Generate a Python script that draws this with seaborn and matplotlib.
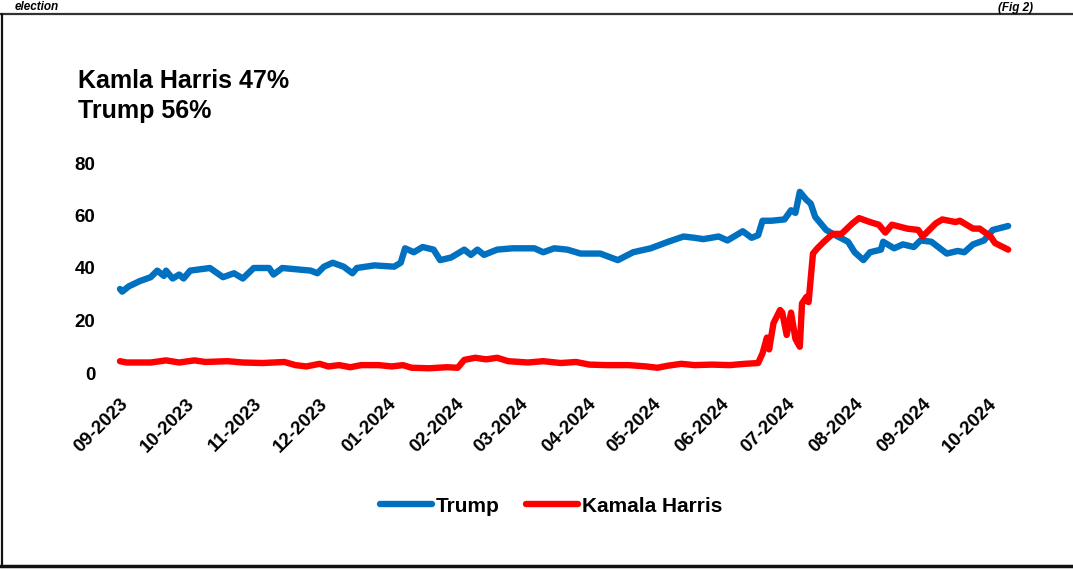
import numpy as np
import pandas as pd
import seaborn as sns
import matplotlib.pyplot as plt
import matplotlib.dates as mdates
from matplotlib.lines import Line2D

# Trump series
trump_dates = [
    "2023-09-01", "2023-09-02", "2023-09-05", "2023-09-10", "2023-09-15", "2023-09-18",
    "2023-09-21", "2023-09-22", "2023-09-25", "2023-09-28", "2023-09-30", "2023-10-03",
    "2023-10-12", "2023-10-18", "2023-10-23", "2023-10-27", "2023-11-01", "2023-11-08",
    "2023-11-10", "2023-11-14", "2023-11-27", "2023-11-30", "2023-12-03", "2023-12-07",
    "2023-12-12", "2023-12-16", "2023-12-18", "2023-12-26", "2024-01-04", "2024-01-07",
    "2024-01-09", "2024-01-13", "2024-01-17", "2024-01-22", "2024-01-25", "2024-01-30",
    "2024-02-05", "2024-02-08", "2024-02-11", "2024-02-14", "2024-02-20", "2024-02-27",
    "2024-03-08", "2024-03-12", "2024-03-17", "2024-03-23", "2024-03-29", "2024-04-07",
    "2024-04-15", "2024-04-22", "2024-04-30", "2024-05-08", "2024-05-15", "2024-05-20",
    "2024-05-24", "2024-05-31", "2024-06-04", "2024-06-11", "2024-06-15", "2024-06-18",
    "2024-06-20", "2024-06-24", "2024-06-30", "2024-07-03", "2024-07-05", "2024-07-07",
    "2024-07-10", "2024-07-12", "2024-07-14", "2024-07-17", "2024-07-19", "2024-07-22",
    "2024-07-29", "2024-08-01", "2024-08-05", "2024-08-08", "2024-08-13", "2024-08-14",
    "2024-08-19", "2024-08-23", "2024-08-28", "2024-08-31", "2024-09-05", "2024-09-12",
    "2024-09-17", "2024-09-20", "2024-09-24", "2024-09-29", "2024-10-03", "2024-10-10",
]
trump_values = [
    32, 31, 33, 35, 36.5, 39,
    37, 39, 36, 37.5, 36, 39,
    40, 36.5, 38, 36, 40, 40,
    37.5, 40, 39, 38, 40.5, 42,
    40.5, 38, 40, 41, 40.5, 42,
    47.5, 46, 48, 47, 43, 44,
    47, 45, 47, 45, 47, 47.5,
    47.5, 46, 47.5, 47, 45.5, 45.5,
    43, 46, 47.5, 50, 52, 51.5,
    51, 52, 50.5, 54, 51.5, 52.5,
    58, 58, 58.5, 62, 61, 69,
    66, 64.5, 59.5, 56.5, 54.5, 53,
    50, 46, 43, 46, 47, 50,
    47.5, 49, 48, 50.5, 50, 45.5,
    46.5, 46, 49, 50.5, 54.5, 56,
]

# Kamala Harris series
harris_dates = [
    "2023-09-01", "2023-09-04", "2023-09-15", "2023-09-22", "2023-09-28", "2023-10-05",
    "2023-10-10", "2023-10-20", "2023-10-27", "2023-11-05", "2023-11-15", "2023-11-20",
    "2023-11-25", "2023-12-01", "2023-12-05", "2023-12-10", "2023-12-15", "2023-12-20",
    "2023-12-28", "2024-01-03", "2024-01-08", "2024-01-12", "2024-01-20", "2024-01-28",
    "2024-02-02", "2024-02-05", "2024-02-10", "2024-02-15", "2024-02-20", "2024-02-25",
    "2024-03-05", "2024-03-12", "2024-03-20", "2024-03-27", "2024-04-02", "2024-04-10",
    "2024-04-20", "2024-04-28", "2024-05-03", "2024-05-08", "2024-05-14", "2024-05-20",
    "2024-05-28", "2024-06-05", "2024-06-12", "2024-06-18", "2024-06-20", "2024-06-22",
    "2024-06-23", "2024-06-25", "2024-06-28", "2024-06-29", "2024-07-01", "2024-07-03",
    "2024-07-05", "2024-07-07", "2024-07-08", "2024-07-10", "2024-07-11", "2024-07-13",
    "2024-07-15", "2024-07-18", "2024-07-22", "2024-07-26", "2024-07-31", "2024-08-03",
    "2024-08-08", "2024-08-12", "2024-08-15", "2024-08-18", "2024-08-25", "2024-08-30",
    "2024-09-01", "2024-09-07", "2024-09-10", "2024-09-16", "2024-09-18", "2024-09-24",
    "2024-09-27", "2024-10-02", "2024-10-04", "2024-10-10",
]
harris_values = [
    4.5, 4.0, 4.0, 4.8, 4.0, 4.8,
    4.2, 4.5, 4.0, 3.8, 4.2, 3.0,
    2.5, 3.5, 2.5, 3.0, 2.2, 3.0,
    3.0, 2.5, 3.0, 2.0, 1.8, 2.2,
    2.0, 5.0, 5.8, 5.2, 5.8, 4.5,
    4.0, 4.5, 3.8, 4.2, 3.2, 3.0,
    3.0, 2.5, 2.0, 2.8, 3.5, 3.0,
    3.2, 3.0, 3.5, 3.8, 7.5, 13.5,
    9, 19, 24, 23, 14.5, 23,
    13, 10, 26.5, 29, 27, 45.5,
    47.5, 50, 53, 53, 57, 59,
    57.5, 56.5, 53.5, 56.5, 55, 54.5,
    52, 57, 58.5, 57.5, 58, 55,
    55, 52, 49.5, 47,
]

candidates = ["Trump", "Kamala Harris"]
colors = {"Trump": "#0070C0", "Kamala Harris": "#FF0000"}

df = pd.concat([
    pd.DataFrame({"date": pd.to_datetime(trump_dates), "value": trump_values, "who": "Trump"}),
    pd.DataFrame({"date": pd.to_datetime(harris_dates), "value": harris_values, "who": "Kamala Harris"}),
])

sns.set_style("white")
plt.rcParams['font.family'] = ['Liberation Sans', 'DejaVu Sans']
plt.rcParams['text.color'] = 'black'
plt.rcParams['xtick.color'] = 'black'
plt.rcParams['ytick.color'] = 'black'

fig = plt.figure(figsize=(10.73, 5.69), dpi=100)
ax = fig.add_axes([0.1016, 1 - 373 / 569, 0.8584, 210 / 569])

sns.lineplot(data=df, x="date", y="value", hue="who", hue_order=candidates,
             palette=colors, linewidth=4.6, ax=ax, legend=False, estimator=None,
             solid_capstyle="round", solid_joinstyle="round")

ax.set_xlim(pd.Timestamp("2023-08-27"), pd.Timestamp("2024-10-20"))
ax.set_ylim(0, 80)
ax.set_yticks([0, 20, 40, 60, 80])
ax.xaxis.set_major_locator(mdates.MonthLocator())
ax.xaxis.set_major_formatter(mdates.DateFormatter("%m-%Y"))
ax.set_xlabel("")
ax.set_ylabel("")
for s in ax.spines.values():
    s.set_visible(False)
ax.tick_params(axis="both", length=0, labelsize=13.5, labelcolor="black")
ax.tick_params(axis="y", pad=10)
ax.tick_params(axis="x", pad=16)
for lbl in ax.get_xticklabels():
    lbl.set_rotation(45)
    lbl.set_ha("right")
    lbl.set_rotation_mode("anchor")
    lbl.set_fontweight("bold")
for lbl in ax.get_yticklabels():
    lbl.set_fontweight("bold")

# headline numbers
fig.text(78 / 1073, 1 - 88 / 569, "Kamla Harris 47%", fontsize=18, fontweight="bold",
         va="baseline", ha="left")
fig.text(78 / 1073, 1 - 118 / 569, "Trump 56%", fontsize=18, fontweight="bold",
         va="baseline", ha="left")

# header of the surrounding table (kept small so it stays inside the picture)
fig.text(15 / 1073, 1 - 10.5 / 569, "election", fontsize=8.5, fontweight="bold",
         style="italic", va="baseline", ha="left")
fig.text(1033 / 1073, 1 - 10.5 / 569, "(Fig 2)", fontsize=8.5, fontweight="bold",
         style="italic", va="baseline", ha="right")

# table borders
fig.add_artist(Line2D([0, 1], [1 - 14 / 569, 1 - 14 / 569], color="#333333", lw=1.6))
fig.add_artist(Line2D([2 / 1073, 2 / 1073], [1 - 14 / 569, 1 - 567 / 569], color="#111111", lw=1.6))
fig.add_artist(Line2D([0, 1], [1 - 566 / 569, 1 - 566 / 569], color="#111111", lw=2.5))

handles = [Line2D([0], [0], color=colors[c], lw=4.6, solid_capstyle="round") for c in candidates]
fig.legend(handles, candidates, loc="center", bbox_to_anchor=(551 / 1073, 1 - 506 / 569),
           ncol=2, frameon=False, handlelength=2.5, handletextpad=0.15, columnspacing=1.3,
           prop={"weight": "bold", "size": 15})

fig.savefig("out.png", dpi=100)
